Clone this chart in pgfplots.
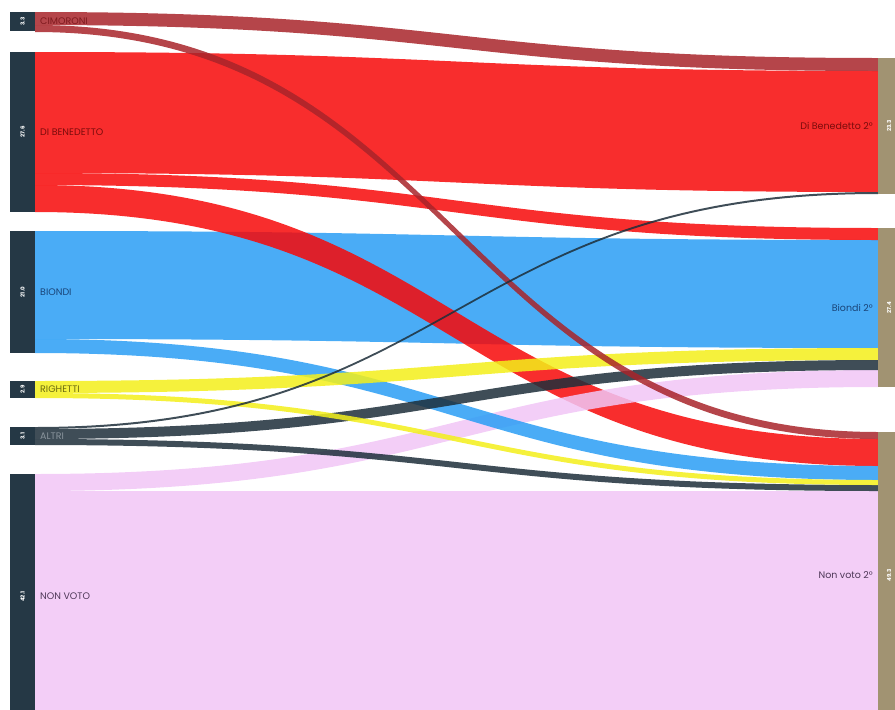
\documentclass[border=0pt]{standalone}
\usepackage{pgfplots}
\pgfplotsset{compat=1.18}
\usepackage{pgfplotstable}
\usepackage{fontspec}
\setmainfont{Poppins}

\definecolor{cim}{HTML}{A8242A}
\definecolor{db}{HTML}{F70808}
\definecolor{bio}{HTML}{2A9EF5}
\definecolor{rig}{HTML}{F3EF1A}
\definecolor{alt}{HTML}{1D2E3A}
\definecolor{nv}{HTML}{F1C6F6}
\definecolor{srcbar}{HTML}{253845}
\definecolor{tgtbar}{HTML}{A19372}
\definecolor{cimt}{HTML}{7E1A1E}
\definecolor{dbt}{HTML}{7A0C0C}
\definecolor{biot}{HTML}{1A4478}
\definecolor{rigt}{HTML}{6B6A10}
\definecolor{altt}{HTML}{8A949C}
\definecolor{nvt}{HTML}{4E3858}

% flows: source top, target top, thickness (px of the picture), colour
% drawn in this order, the big ones first
\pgfplotstableread[col sep=comma]{
y0,y1,w,fc
491,491,228,nv
52,71,121,db
231,240,108,bio
185,439,27,db
474,370,17,nv
339,466,14,bio
12,58,13,cim
173,228,12,db
381,348,12,rig
429,360,10,alt
25,432,7,cim
439,485,6,alt
393,480,5,rig
427,192,2,alt
}\flows

% nodes: bar x range, y range, value, label, label colour, label x, anchor
\pgfplotstableread[col sep=comma]{
x0,x1,y0,y1,val,label,tc,lx,anc,bc
10,35,12,31,3.3,CIMORONI,cimt,40,west,srcbar
10,35,52,212,27.6,DI BENEDETTO,dbt,40,west,srcbar
10,35,231,353,21.0,BIONDI,biot,40,west,srcbar
10,35,381,398,2.9,RIGHETTI,rigt,40,west,srcbar
10,35,427,445,3.1,ALTRI,altt,40,west,srcbar
10,35,474,719,42.1,NON VOTO,nvt,40,west,srcbar
878,900,58,194,23.3,Di Benedetto 2°,dbt,873,east,tgtbar
878,900,228,387,27.4,Biondi 2°,biot,873,east,tgtbar
878,900,432,719,49.3,Non voto 2°,nvt,873,east,tgtbar
}\sknodes

\begin{document}
\begin{tikzpicture}
\begin{axis}[
    at={(0,0)}, anchor=south west,
    scale only axis,
    width=895pt, height=710pt,
    xmin=0, xmax=895,
    ymin=0, ymax=710,
    y dir=reverse,
    hide axis,
    clip=true
]
\pgfplotsextra{%
  \pgfplotstablegetrowsof{\flows}%
  \pgfmathtruncatemacro\N{\pgfplotsretval-1}%
  \foreach \i in {0,...,\N}{%
    \pgfplotstablegetelem{\i}{y0}\of\flows\let\ya\pgfplotsretval
    \pgfplotstablegetelem{\i}{y1}\of\flows\let\yb\pgfplotsretval
    \pgfplotstablegetelem{\i}{w}\of\flows\let\fw\pgfplotsretval
    \pgfplotstablegetelem{\i}{fc}\of\flows\let\fcol\pgfplotsretval
    \pgfmathsetmacro\yc{\ya+\fw}%
    \pgfmathsetmacro\yd{\yb+\fw}%
    \fill[fill=\fcol, fill opacity=0.85]
      (axis cs:35,\ya) .. controls (axis cs:456,\ya) and (axis cs:456,\yb) ..
      (axis cs:878,\yb) -- (axis cs:878,\yd)
      .. controls (axis cs:456,\yd) and (axis cs:456,\yc) ..
      (axis cs:35,\yc) -- cycle;
  }%
  \pgfplotstablegetrowsof{\sknodes}%
  \pgfmathtruncatemacro\M{\pgfplotsretval-1}%
  \foreach \i in {0,...,\M}{%
    \pgfplotstablegetelem{\i}{x0}\of\sknodes\let\xa\pgfplotsretval
    \pgfplotstablegetelem{\i}{x1}\of\sknodes\let\xb\pgfplotsretval
    \pgfplotstablegetelem{\i}{y0}\of\sknodes\let\ya\pgfplotsretval
    \pgfplotstablegetelem{\i}{y1}\of\sknodes\let\yb\pgfplotsretval
    \pgfplotstablegetelem{\i}{val}\of\sknodes\let\nval\pgfplotsretval
    \pgfplotstablegetelem{\i}{label}\of\sknodes\let\nlab\pgfplotsretval
    \pgfplotstablegetelem{\i}{tc}\of\sknodes\let\ntc\pgfplotsretval
    \pgfplotstablegetelem{\i}{lx}\of\sknodes\let\nlx\pgfplotsretval
    \pgfplotstablegetelem{\i}{anc}\of\sknodes\let\nanc\pgfplotsretval
    \pgfplotstablegetelem{\i}{bc}\of\sknodes\let\nbc\pgfplotsretval
    \pgfmathsetmacro\ym{(\ya+\yb)/2}%
    \pgfmathsetmacro\xm{(\xa+\xb)/2}%
    \fill[\nbc] (axis cs:\xa,\ya) rectangle (axis cs:\xb,\yb);
    \node[text=white, rotate=90, font=\fontsize{5.5}{6}\selectfont\bfseries,
          inner sep=0pt] at (axis cs:\xm,\ym) {\nval};
    \node[text=\ntc, anchor=\nanc, inner sep=0pt,
          font=\fontsize{9.5}{11}\selectfont] at (axis cs:\nlx,\ym) {\nlab};
  }%
}
\end{axis}
\pgfresetboundingbox
\useasboundingbox (0,0) rectangle (895pt,710pt);
\end{tikzpicture}
\end{document}
